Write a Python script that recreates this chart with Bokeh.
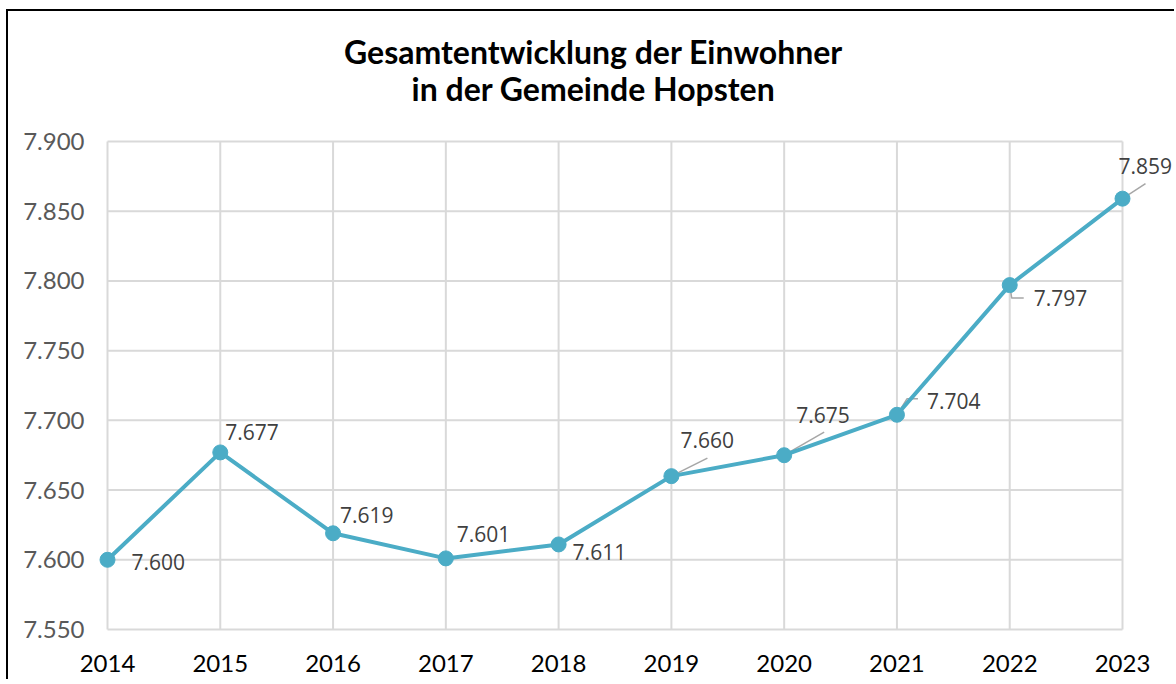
from bokeh.plotting import figure
from bokeh.models import (Range1d, FixedTicker, CustomJSTickFormatter, ColumnDataSource,
                          LabelSet, Label)
from bokeh.core.properties import value
from bokeh.embed import file_html
from bokeh.resources import INLINE

# ---- data ----
years = [2014, 2015, 2016, 2017, 2018, 2019, 2020, 2021, 2022, 2023]
einwohner = [7600, 7677, 7619, 7601, 7611, 7660, 7675, 7704, 7797, 7859]
y_ticks = [7550, 7600, 7650, 7700, 7750, 7800, 7850, 7900]
title_lines = ["Gesamtentwicklung der Einwohner", "in der Gemeinde Hopsten"]

# ---- layout (pixels) ----
# the frame is enlarged (padding) so that labels and title, which are clipped
# to the frame, fit inside it
W, H = 1168, 670
inner_w, inner_h = 1015, 488           # span of 2014..2023 and 7550..7900
pad_l, pad_r, pad_t, pad_b = 10, 54, 121, 10
mb_left, mb_top, mb_right = 89, 9, 0
frame_w = inner_w + pad_l + pad_r
frame_h = inner_h + pad_t + pad_b
mb_bottom = H - mb_top - frame_h

ppx = inner_w / (years[-1] - years[0])
ppy = inner_h / (y_ticks[-1] - y_ticks[0])

x0 = years[0] - pad_l / ppx
x1 = years[-1] + pad_r / ppx
y0 = y_ticks[0] - pad_b / ppy
y1 = y_ticks[-1] + pad_t / ppy

p = figure(width=W, height=H, output_backend="svg", toolbar_location=None,
           x_range=Range1d(x0, x1), y_range=Range1d(y0, y1),
           min_border_left=mb_left, min_border_right=mb_right,
           min_border_top=mb_top, min_border_bottom=mb_bottom)
p.styles = {"margin-left": "6px", "margin-top": "9px",
            "border-left": "2px solid black", "border-top": "2px solid black"}
p.outline_line_color = None
p.background_fill_color = "white"
p.border_fill_color = "white"
p.title.visible = False

# title: two centred lines, placed relative to the plot frame (screen units, y up)
title_cx = 496              # px from frame left
title_base = [31, 68]       # baselines, px below frame top
for txt, b in zip(title_lines, title_base):
    p.add_layout(Label(x=title_cx, y=frame_h - b, x_units="screen", y_units="screen",
                       text=txt, text_align="center", text_baseline="alphabetic",
                       text_font="Lato", text_font_style="bold", text_font_size="32px",
                       text_color="#000000"))

# grid drawn manually to span only the data extent
p.xgrid.visible = False
p.ygrid.visible = False
grid_col = "#D9D9D9"
p.segment(x0=[years[0]] * len(y_ticks), x1=[years[-1]] * len(y_ticks),
          y0=y_ticks, y1=y_ticks, line_color=grid_col, line_width=2)
p.segment(x0=years, x1=years, y0=[y_ticks[0]] * len(years), y1=[y_ticks[-1]] * len(years),
          line_color=grid_col, line_width=2)

# axes
for ax in (p.xaxis[0], p.yaxis[0]):
    ax.axis_line_color = None
    ax.major_tick_line_color = None
    ax.minor_tick_line_color = None
    ax.major_label_text_font = "Lato"
    ax.major_label_text_font_size = "24px"
p.xaxis.ticker = FixedTicker(ticks=years)
p.xaxis.major_label_text_color = "#000000"
p.xaxis.major_label_standoff = 9
p.yaxis.ticker = FixedTicker(ticks=y_ticks)
p.yaxis.major_label_text_color = "#595959"
p.yaxis.major_label_standoff = 7
p.yaxis.formatter = CustomJSTickFormatter(
    code="return Math.round(tick).toString().replace(/\\B(?=(\\d{3})+(?!\\d))/g, '.');")
p.xaxis.formatter = CustomJSTickFormatter(code="return String(tick);")

# leader lines (pixel offsets from the point, screen y downward)
leader_px = {
    2019: [(0, 0), (36, -18)],
    2020: [(0, 0), (40, -23)],
    2021: [(0, 0), (10, -16), (21, -16)],
    2022: [(0, 0), (2, 13), (14, 13)],
    2023: [(0, 0), (23, -15)],
}
lx, ly = [], []
for yr, val in zip(years, einwohner):
    if yr in leader_px:
        lx.append([yr + dx / ppx for dx, dy in leader_px[yr]])
        ly.append([val - dy / ppy for dx, dy in leader_px[yr]])
p.multi_line(xs=lx, ys=ly, line_color="#A6A6A6", line_width=1.5)

# series
line_col = "#4BACC6"
p.line(years, einwohner, line_color=line_col, line_width=4)
p.scatter(years, einwohner, size=15, fill_color=line_col, line_color=line_col)

# data labels
lab_off = [(24, 2), (5, -20), (7, -18), (11, -24), (14, 8),
           (9, -36), (12, -40), (30, -14), (24, 13), (-4, -33)]
src = ColumnDataSource(dict(
    x=years, y=einwohner,
    txt=[f"{v:,}".replace(",", ".") for v in einwohner],
    xo=[o[0] for o in lab_off], yo=[-o[1] for o in lab_off]))
labels = LabelSet(x="x", y="y", text="txt", source=src, x_offset="xo", y_offset="yo",
                  text_font=value("Open Sans"), text_font_size=value("21px"),
                  text_color="#404040", text_align="left", text_baseline="middle")
p.add_layout(labels)

open("out.html", "w").write(file_html(p, INLINE))
